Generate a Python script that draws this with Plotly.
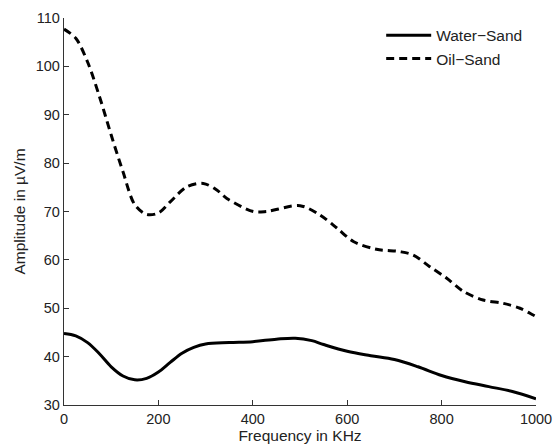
import plotly.graph_objects as go

# Data
water_x = [0, 25, 50, 75, 100, 125, 150, 175, 200, 225, 250, 275, 300, 350, 400, 450, 490, 525, 550, 600, 650, 700, 750, 800, 850, 900, 950, 1000]
water_y = [44.8, 44.3, 42.9, 40.6, 37.9, 36.0, 35.2, 35.5, 36.8, 38.8, 40.7, 41.9, 42.6, 42.9, 43.1, 43.6, 43.8, 43.3, 42.5, 41.1, 40.2, 39.4, 37.9, 36.1, 34.8, 33.8, 32.8, 31.3]

oil_x = [0, 25, 50, 75, 100, 125, 150, 175, 200, 225, 260, 295, 323, 345, 401, 429, 500, 542, 578, 613, 662, 712, 740, 775, 811, 846, 888, 931, 966, 994, 1000]
oil_y = [107.7, 105.8, 100.9, 93.8, 85.8, 78.2, 71.4, 69.4, 69.7, 72.0, 75.1, 75.8, 74.5, 72.7, 70.0, 70.0, 71.2, 69.3, 66.6, 63.8, 62.2, 61.7, 61.0, 58.6, 56.2, 53.5, 51.7, 51.0, 50.0, 48.6, 48.3]

x_ticks = [0, 200, 400, 600, 800, 1000]
y_ticks = [30, 40, 50, 60, 70, 80, 90, 100, 110]

FONT = "Liberation Sans, Arial, sans-serif"

fig = go.Figure()
fig.add_trace(go.Scatter(x=water_x, y=water_y, mode="lines", name="Water−Sand",
                         line=dict(color="black", width=3, shape="spline", smoothing=1.0)))
fig.add_trace(go.Scatter(x=oil_x, y=oil_y, mode="lines", name="Oil−Sand",
                         line=dict(color="black", width=3, dash="8px,5px", shape="spline", smoothing=0.9)))

fig.update_layout(
    width=553, height=445,
    margin=dict(l=64, r=17, t=18, b=40),
    paper_bgcolor="white", plot_bgcolor="white",
    font=dict(family=FONT, size=15, color="#222"),
    showlegend=True,
    legend=dict(x=0.672, y=0.998, xanchor="left", yanchor="top",
                bgcolor="rgba(0,0,0,0)", borderwidth=0,
                font=dict(family=FONT, size=15.5, color="#222"),
                itemwidth=45, tracegroupgap=0),
    xaxis=dict(range=[0, 1000], tickvals=x_ticks, ticks="inside", ticklen=5,
               tickcolor="#333", showline=True, linecolor="#333", linewidth=1.3,
               showgrid=False, zeroline=False, mirror=False, automargin=False,
               tickfont=dict(family=FONT, size=14.5, color="#222"),
               title=dict(text="Frequency in KHz", standoff=4,
                          font=dict(family=FONT, size=15.5, color="#222"))),
    yaxis=dict(range=[30, 110], tickvals=y_ticks, ticks="inside", ticklen=5,
               tickcolor="#333", showline=True, linecolor="#333", linewidth=1.3,
               showgrid=False, zeroline=False, mirror=False, automargin=False,
               tickfont=dict(family=FONT, size=14.5, color="#222"),
               title=dict(text="Amplitude in µV/m", standoff=6,
                          font=dict(family=FONT, size=15.5, color="#222"))),
)

fig.write_html("out.html")
